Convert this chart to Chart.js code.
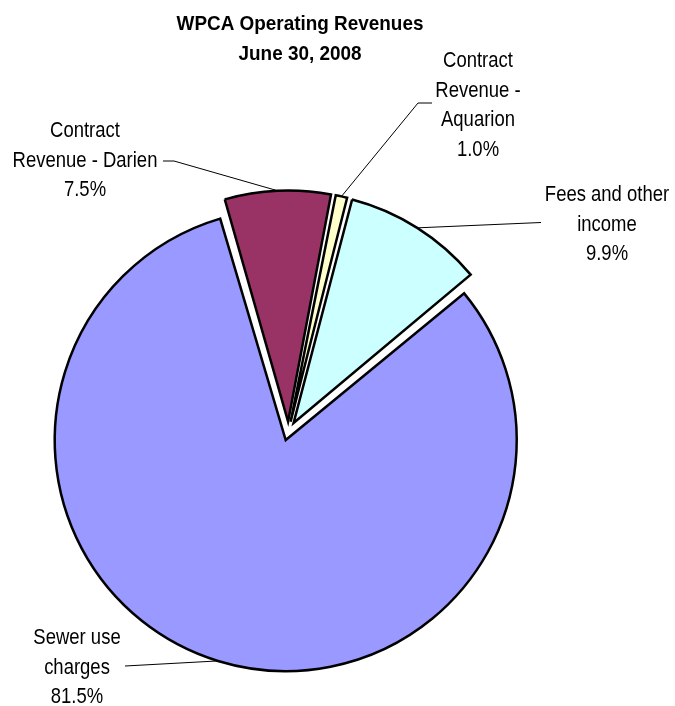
<!DOCTYPE html>
<html>
<head>
<meta charset="utf-8">
<script src="https://cdn.jsdelivr.net/npm/chart.js@4.4.0/dist/chart.umd.min.js"></script>
<style>
    html, body { margin: 0; padding: 0; background: #ffffff; }
</style>
</head>
<body>
<canvas id="revenue_graph" width="675" height="706"></canvas>
<script>
var categories = [
    "Sewer use charges",
    "Contract Revenue - Darien",
    "Contract Revenue - Aquarion",
    "Fees and other income"
];
var shares = [81.5, 7.5, 1.0, 9.9];
var sliceColors = ["#9999FF", "#993366", "#FFFFCC", "#CCFFFF"];
var labelLines = [
    ["Sewer use", "charges"],
    ["Contract", "Revenue - Darien"],
    ["Contract", "Revenue -", "Aquarion"],
    ["Fees and other", "income"]
];
var titleLines = ["WPCA Operating Revenues", "June 30, 2008"];

var PIE_RADIUS = 231;
var SLICE_OFFSET = 38;

var labelFont = '22px "Liberation Sans", Arial, sans-serif';
var titleFont = 'bold 21px "Liberation Sans", Arial, sans-serif';

// where each label block sits and how its leader line bends before reaching the slice
var labelPlacement = [
    { x: 77,  y: 644, leader: [[125, 666]] },
    { x: 85,  y: 137, leader: [[163, 161], [174, 161]] },
    { x: 478, y: 67,  leader: [[432, 103], [418, 103]] },
    { x: 607, y: 201, leader: [[541, 222.5]] }
];

// Chart.js grows exploded slices by offset/4 * (1 - sin(angle)); pull them back so every slice has the same radius
var evenRadius = {
    id: 'evenRadius',
    afterDatasetsUpdate: function(chart) {
        var shift = SLICE_OFFSET / 4;
        chart.getDatasetMeta(0).data.forEach(function(arc) {
            var circ = arc.endAngle - arc.startAngle;
            var fix = 1 - Math.sin(Math.min(Math.PI, circ));
            arc.outerRadius = PIE_RADIUS - shift * fix;
        });
    }
};

// narrow-looking text: regular face squeezed horizontally
function narrowText(ctx, text, x, y, squeeze) {
    ctx.save();
    ctx.translate(x, y);
    ctx.scale(squeeze, 1);
    ctx.fillText(text, 0, 0);
    ctx.restore();
}

var pieLabels = {
    id: 'pieLabels',
    afterDraw: function(chart) {
        var ctx = chart.ctx;
        var shift = SLICE_OFFSET / 4;
        ctx.save();

        ctx.fillStyle = '#000';
        ctx.textAlign = 'center';
        ctx.textBaseline = 'alphabetic';
        ctx.font = titleFont;
        titleLines.forEach(function(line, i) {
            narrowText(ctx, line, 300, 29.5 + i * 30, 0.9);
        });

        ctx.font = labelFont;
        ctx.strokeStyle = '#000';
        ctx.lineWidth = 1;
        chart.getDatasetMeta(0).data.forEach(function(arc, i) {
            var place = labelPlacement[i];
            var lines = labelLines[i].concat([shares[i].toFixed(1) + '%']);
            lines.forEach(function(line, j) {
                narrowText(ctx, line, place.x, place.y + j * 29.7, 0.84);
            });

            var mid = (arc.startAngle + arc.endAngle) / 2;
            var ex = arc.x + Math.cos(mid) * (shift + PIE_RADIUS);
            var ey = arc.y + Math.sin(mid) * (shift + PIE_RADIUS);
            ctx.beginPath();
            ctx.moveTo(place.leader[0][0], place.leader[0][1]);
            for (var k = 1; k < place.leader.length; k++) {
                ctx.lineTo(place.leader[k][0], place.leader[k][1]);
            }
            ctx.lineTo(ex, ey);
            ctx.stroke();
        });
        ctx.restore();
    }
};

var config = {
    type: 'pie',
    data: {
        labels: categories,
        datasets: [{
            data: shares,
            backgroundColor: sliceColors,
            borderColor: '#000000',
            borderWidth: 2.5,
            borderJoinStyle: 'miter',
            offset: SLICE_OFFSET
        }]
    },
    options: {
        responsive: false,
        animation: false,
        radius: PIE_RADIUS,
        rotation: 50.2,
        layout: {
            padding: { left: 0, right: 98, top: 160, bottom: 4 }
        },
        plugins: {
            legend: { display: false },
            title: { display: false },
            tooltip: { enabled: false }
        }
    },
    plugins: [evenRadius, pieLabels]
};

var ctx = document.getElementById("revenue_graph").getContext("2d");
new Chart(ctx, config);
</script>
</body>
</html>
